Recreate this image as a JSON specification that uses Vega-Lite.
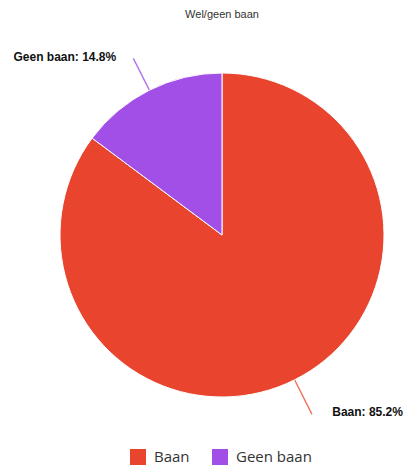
{
  "$schema": "https://vega.github.io/schema/vega-lite/v6.json",
  "width": 362,
  "height": 410,
  "autosize": {"type": "none"},
  "padding": {"left": 41, "right": 0, "top": 30, "bottom": 26},
  "background": "white",
  "title": {"text": "Wel/geen baan", "fontSize": 11, "font": "Liberation Sans", "fontWeight": "normal", "color": "#333333", "offset": 10, "anchor": "middle"},
  "data": {"values": [
    {"categorie": "Baan", "aandeel": 85.2, "volgorde": 1, "label": "Baan: 85.2%"},
    {"categorie": "Geen baan", "aandeel": 14.8, "volgorde": 2, "label": "Geen baan: 14.8%"}
  ]},
  "transform": [
    {"stack": "aandeel", "groupby": [], "sort": [{"field": "volgorde", "order": "ascending"}], "as": ["s0", "s1"]}
  ],
  "layer": [
    {
      "mark": {"type": "arc", "outerRadius": 162, "stroke": "white", "strokeWidth": 1},
      "encoding": {
        "theta": {"field": "s0", "type": "quantitative", "scale": {"domain": [0, 100]}},
        "theta2": {"field": "s1"},
        "color": {"field": "categorie", "type": "nominal", "title": null,
          "scale": {"domain": ["Baan", "Geen baan"], "range": ["#E9442E", "#A24FE8"]},
          "legend": {"orient": "none", "legendX": 89, "legendY": 419, "direction": "horizontal", "symbolType": "square", "symbolSize": 256, "symbolStrokeWidth": 0, "labelFontSize": 15, "labelFont": "Open Sans", "labelColor": "#333333", "labelOffset": 8, "columnPadding": 22}}
      }
    },
    {
      "transform": [{"filter": "datum.categorie === 'Geen baan'"}],
      "mark": {"type": "arc", "radius": 197, "radius2": 163, "thetaOffset": 0.465, "theta2Offset": -0.465, "fillOpacity": 0, "stroke": "#B070EC", "strokeWidth": 1.3},
      "encoding": {
        "theta": {"field": "s0", "type": "quantitative"},
        "theta2": {"field": "s1"}
      }
    },
    {
      "transform": [{"filter": "datum.categorie === 'Baan'"}],
      "mark": {"type": "arc", "radius": 200, "radius2": 163, "thetaOffset": 2.6766, "theta2Offset": -2.6766, "fillOpacity": 0, "stroke": "#EE6F5E", "strokeWidth": 1.3},
      "encoding": {
        "theta": {"field": "s0", "type": "quantitative"},
        "theta2": {"field": "s1"}
      }
    },
    {
      "mark": {"type": "text", "radius": 207, "align": "right", "baseline": "middle", "fontSize": 12, "fontWeight": "bold", "font": "Liberation Sans", "color": "#111111", "dx": -13, "dy": 7},
      "encoding": {
        "theta": {"field": "aandeel", "type": "quantitative", "stack": true},
        "order": {"field": "volgorde", "type": "quantitative"},
        "text": {"condition": {"test": "datum.categorie === 'Geen baan'", "field": "label"}, "value": ""}
      }
    },
    {
      "mark": {"type": "text", "radius": 208, "align": "left", "baseline": "middle", "fontSize": 12, "fontWeight": "bold", "font": "Liberation Sans", "color": "#111111", "dx": 17, "dy": -9},
      "encoding": {
        "theta": {"field": "aandeel", "type": "quantitative", "stack": true},
        "order": {"field": "volgorde", "type": "quantitative"},
        "text": {"condition": {"test": "datum.categorie === 'Baan'", "field": "label"}, "value": ""}
      }
    }
  ]
}
